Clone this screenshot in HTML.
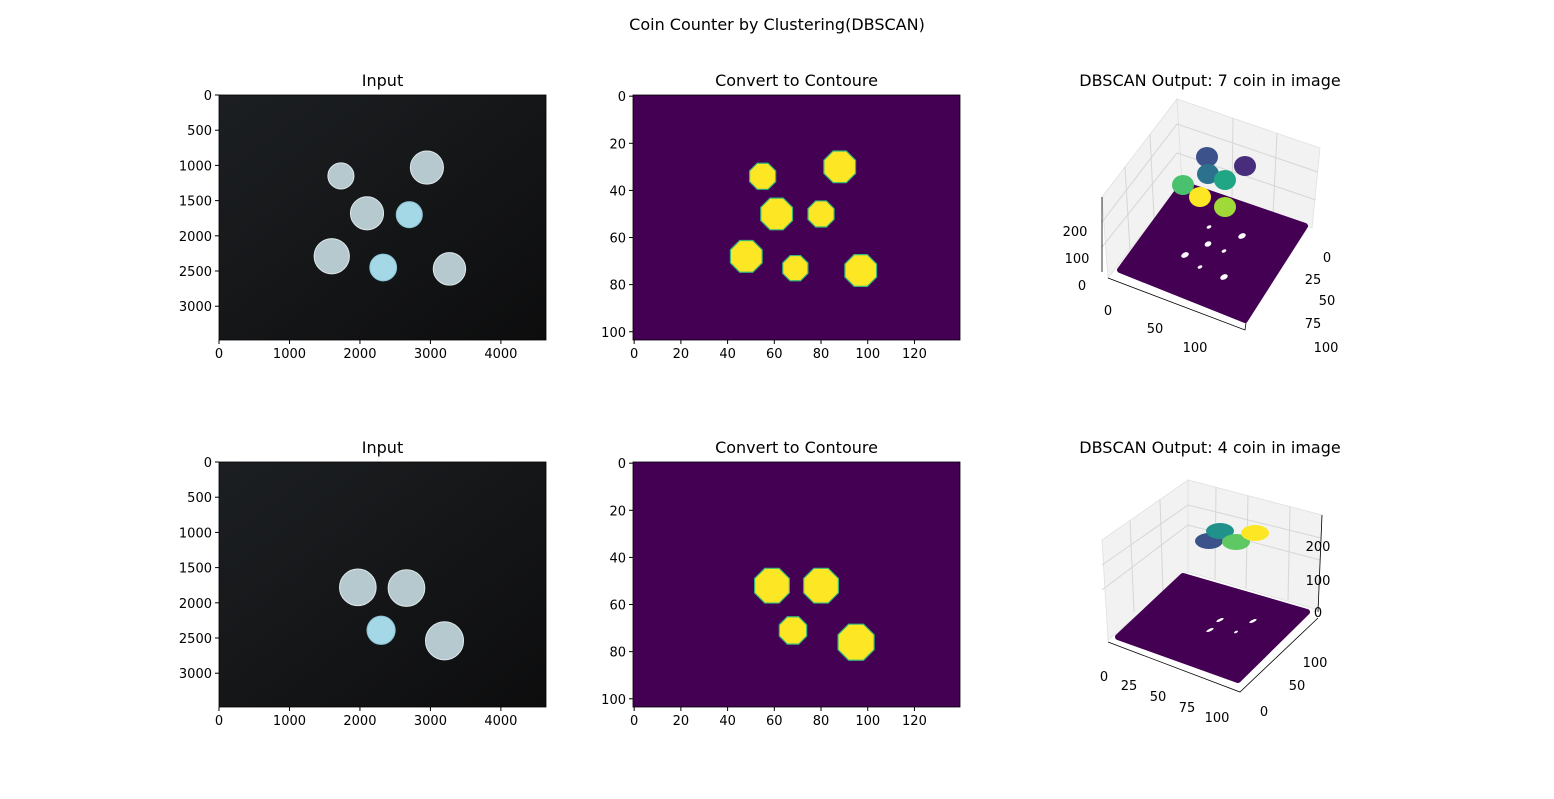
<!DOCTYPE html>
<html><head><meta charset="utf-8"><style>
body{margin:0;background:#fff;}
svg text{font-family:"DejaVu Sans","Liberation Sans",sans-serif;font-size:13px;fill:#000;}
</style></head><body>
<svg id="fig" width="1554" height="794" viewBox="0 0 1554 794" xmlns="http://www.w3.org/2000/svg">
<rect width="1554" height="794" fill="#fff"/>
<text x="777" y="30" text-anchor="middle" style="font-size:16px">Coin Counter by Clustering(DBSCAN)</text>
<defs>
<linearGradient id="photo" x1="0" y1="0" x2="1" y2="1"><stop offset="0" stop-color="#1c1f22"/><stop offset="1" stop-color="#0d0d0e"/></linearGradient>
</defs>
<g id="content"></g>
</svg>
<script>
const NS="http://www.w3.org/2000/svg";
const photoTopX=[1730,2950,2100,2700,1600,2330,3270];
const photoTopY=[1150,1030,1680,1700,2290,2450,2470];
const photoTopR=[185,235,235,185,250,190,230];
const photoTopBlue=[0,0,0,1,0,1,0];
const photoBotX=[1970,2660,2300,3200];
const photoBotY=[1780,1790,2390,2540];
const photoBotR=[260,260,200,270];
const photoBotBlue=[0,0,1,0];
const contTopX=[55,88,61,80,48,69,97];
const contTopY=[34,30,50,50,68,73,74];
const contTopR=[6,7.3,7.3,6,7.3,5.8,7.3];
const contBotX=[59,80,68,95];
const contBotY=[52,52,71,76];
const contBotR=[8,8,6.3,8.3];
const photoXTicks=[0,1000,2000,3000,4000];
const photoYTicks=[0,500,1000,1500,2000,2500,3000];
const contXTicks=[0,20,40,60,80,100,120];
const contYTicks=[0,20,40,60,80,100];
const g=document.getElementById('content');
function el(t,a,p){const e=document.createElementNS(NS,t);for(const k in a)e.setAttribute(k,a[k]);(p||g).appendChild(e);return e;}
function txt(s,x,y,anchor,p){const e=el('text',{x:x,y:y,'text-anchor':anchor||'middle'},p);e.textContent=s;return e;}

function axesFrame(name,x0,y0,w,h,xmin,xmax,ymin,ymax,xt,yt,title){
  const grp=el('g',{});
  
  
  const sx=v=>x0+(v-xmin)/(xmax-xmin)*w;
  const sy=v=>y0+(v-ymin)/(ymax-ymin)*h;
  return {grp,sx,sy,finish(){
    el('rect',{x:x0,y:y0,width:w,height:h,fill:'none',stroke:'#000','stroke-width':0.8},grp);
    xt.forEach(v=>{el('line',{x1:sx(v),x2:sx(v),y1:y0+h,y2:y0+h+4,stroke:'#000'},grp);const t=txt(String(v),sx(v),y0+h+18,'middle',grp);});
    yt.forEach(v=>{el('line',{x1:x0-4,x2:x0,y1:sy(v),y2:sy(v),stroke:'#000'},grp);const t=txt(String(v),x0-7,sy(v)+5,'end',grp);});
    const tt=txt(title,x0+w/2,y0-9,'middle',grp);tt.style.fontSize='16px';
    
  }};
}
function photo(name,y0,X,Y,R,B){
  const a=axesFrame(name,219,y0,327,245,0,4640,0,3480,photoXTicks,photoYTicks,'Input');
  el('rect',{x:219,y:y0,width:327,height:245,fill:'url(#photo)'},a.grp);
  X.forEach((x,i)=>{const c=el('circle',{cx:a.sx(x),cy:a.sy(Y[i]),r:R[i]*327/4640,fill:B[i]?'#a4d8e6':'#b5c9cf',stroke:B[i]?'#8cc4d4':'#dfe8ea','stroke-width':1},a.grp);
    });
  a.finish();
}
function contour(name,y0,X,Y,R){
  const a=axesFrame(name,633,y0,327,245,-0.5,139.5,-0.5,103.5,contXTicks,contYTicks,'Convert to Contoure');
  el('rect',{x:633,y:y0,width:327,height:245,fill:'#440154'},a.grp);
  X.forEach((x,i)=>{const r=R[i]*2.35;const pts=[];for(let k=0;k<8;k++){const an=Math.PI/8+k*Math.PI/4;pts.push((a.sx(x)+r*Math.cos(an))+','+(a.sy(Y[i])+r*Math.sin(an)));}
    const c=el('polygon',{points:pts.join(' '),fill:'#fde725',stroke:'#35b779','stroke-width':1.2},a.grp);
    });
  a.finish();
}
photo('input-axes-top',95,photoTopX,photoTopY,photoTopR,photoTopBlue);
photo('input-axes-bottom',462,photoBotX,photoBotY,photoBotR,photoBotBlue);
contour('contour-axes-top',95,contTopX,contTopY,contTopR);
contour('contour-axes-bottom',462,contBotX,contBotY,contBotR);

const d3TopColors=['#3b528b','#2c728e','#472d7b','#21a685','#4ac16d','#fde725','#a0da39'];
const d3TopBX=[1207,1208,1245,1225,1183,1200,1225];
const d3TopBY=[157,174,166,180,185,197,207];
const d3BotColors=['#3b528b','#21918c','#5ec962','#fde725'];
const d3BotBX=[1209,1220,1236,1255];
const d3BotBY=[541,531,542,533];
function panel3d(name,title,titleY,walls,grid,floor,holes,blobs,rx,ry,labels,axes){
  const grp=el('g',{});
  walls.forEach(w=>el('polygon',{points:w,fill:'#f2f2f2',stroke:'#e0e0e0','stroke-width':0.8},grp));
  grid.forEach(l=>el('polyline',{points:l,fill:'none',stroke:'#d6d6d6','stroke-width':1},grp));
  axes.forEach(l=>el('polyline',{points:l,fill:'none',stroke:'#000','stroke-width':0.8},grp));
  el('polygon',{points:floor,fill:'#440154',stroke:'#440154','stroke-width':6,'stroke-linejoin':'round'},grp);
  holes.forEach(h=>el('ellipse',{cx:h[0],cy:h[1],rx:h[2],ry:h[3],fill:'#fff',transform:'rotate(-25 '+h[0]+' '+h[1]+')'},grp));
  blobs.c.forEach((c,i)=>{const b=el('ellipse',{cx:blobs.x[i],cy:blobs.y[i],rx:rx,ry:ry,fill:c},grp);});
  labels.forEach(l=>{const t=txt(l[0],l[1],l[2],'middle',grp);});
  const t=txt(title,1210,titleY,'middle',grp);t.style.fontSize='16px';
  return grp;
}
panel3d('dbscan-axes-top','DBSCAN Output: 7 coin in image',86,
 ['1102,197 1177,99 1182,183 1108,278','1177,99 1320,148 1312,228 1182,183'],
 ['1125,167 1130,250','1150,134 1154,218','1233,118 1232,200','1277,133 1273,215','1102,222 1177,124 1318,172','1102,247 1177,153 1316,200'],
 '1120,270 1183,184 1305,226 1245,320',
 [[1209,227,2.5,1.5],[1242,236,4,2.5],[1208,244,3.5,2.5],[1224,251,2.5,1.5],[1185,255,4,2.5],[1200,267,2.5,1.5],[1224,277,4,2.5]],
 {c:d3TopColors,x:d3TopBX,y:d3TopBY},11,10,
 [['200',1075,236],['100',1077,263],['0',1082,290],['0',1108,315],['50',1155,333],['100',1195,352],['0',1327,262],['25',1313,284],['50',1327,305],['75',1313,328],['100',1326,352]],
 ['1102,197 1102,272','1108,278 1245,330 1258,236']);
panel3d('dbscan-axes-bottom','DBSCAN Output: 4 coin in image',453,
 ['1102,540 1188,480 1188,572 1108,640','1188,480 1322,515 1318,610 1188,572'],
 ['1130,520 1134,612','1160,500 1163,592','1216,487 1215,580','1248,496 1246,588','1290,507 1288,600','1102,590 1188,525 1320,560','1102,565 1188,505 1321,538'],
 '1118,637 1183,576 1307,612 1238,680',
 [[1220,620,4,1.2],[1253,621,4,1.2],[1210,630,4,1.2],[1236,632,2,1]],
 {c:d3BotColors,x:d3BotBX,y:d3BotBY},14,8,
 [['200',1318,551],['100',1318,585],['0',1318,617],['0',1104,681],['25',1129,690],['50',1158,701],['75',1187,712],['100',1217,722],['100',1315,667],['50',1297,690],['0',1264,716]],
 ['1322,515 1318,612','1108,642 1240,692 1318,618']);
</script>
</body></html>
